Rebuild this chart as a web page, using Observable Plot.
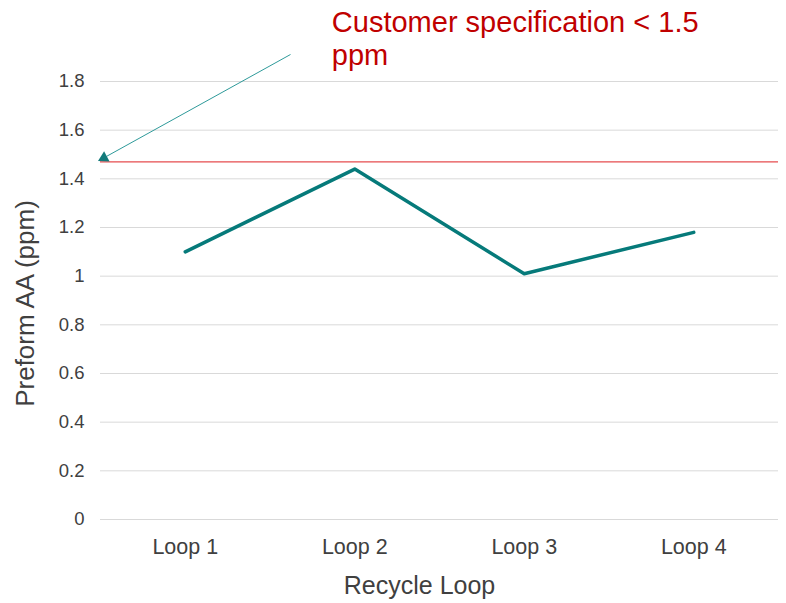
<!DOCTYPE html>
<html><head><meta charset="utf-8">
<script src="https://cdn.jsdelivr.net/npm/d3@7"></script>
<script src="https://cdn.jsdelivr.net/npm/@observablehq/plot@0.6"></script>
<style>body{margin:0;background:#fff;font-family:"Liberation Sans",Arial,sans-serif}</style>
</head><body><div id="chart"></div>
<script>
const loops = ["Loop 1", "Loop 2", "Loop 3", "Loop 4"];
const aaValues = [1.10, 1.44, 1.01, 1.18];
const yTicks = [0, 0.2, 0.4, 0.6, 0.8, 1, 1.2, 1.4, 1.6, 1.8];
const specLimit = 1.47;
const annotationText = "Customer specification < 1.5\nppm";

const data = loops.map((l, i) => ({i, loop: l, v: aaValues[i]}));

const chart = Plot.plot({
  width: 786, height: 603,
  marginLeft: 100, marginRight: 8, marginTop: 81, marginBottom: 84,
  style: {fontFamily: "'Liberation Sans', Arial, sans-serif", background: "#fff"},
  x: {domain: [-0.5, 3.5]},
  y: {domain: [0, 1.8]},
  marks: [
    Plot.ruleY(yTicks, {stroke: "#d9d9d9", strokeWidth: 1}),
    Plot.axisY({ticks: yTicks, tickSize: 0, tickPadding: 16, fontSize: 18.5, color: "#404040", label: null,
      tickFormat: d => String(d)}),
    Plot.axisX({ticks: [0, 1, 2, 3], tickSize: 0, tickPadding: 19, fontSize: 21.5, color: "#404040", label: null,
      tickFormat: d => loops[d]}),
    Plot.text(["Preform AA (ppm)"], {frameAnchor: "left", textAnchor: "middle", dx: -75, dy: 3, rotate: -90, fontSize: 26, fill: "#404040"}),
    Plot.text(["Recycle Loop"], {frameAnchor: "bottom", dy: 74, dx: -20, fontSize: 25, fill: "#404040"}),
    Plot.ruleY([specLimit], {stroke: "#e64c4f", strokeWidth: 1.2}),
    Plot.line(data, {x: "i", y: "v", stroke: "#067a7a", strokeWidth: 3.5}),
    Plot.link([{x1: 0.621, y1: 1.911, x2: -0.465, y2: 1.492}], {x1: "x1", y1: "y1", x2: "x2", y2: "y2",
      stroke: "#2e9a9a", strokeWidth: 1}),
    Plot.dot([{x: -0.48, y: 1.486}], {x: "x", y: "y", symbol: "triangle", r: 4.3, fill: "#127a7a", stroke: null, rotate: -118}),
    Plot.text([annotationText], {x: 0.865, y: 2.1, textAnchor: "start", lineAnchor: "top", fontSize: 29, fill: "#c00000", lineHeight: 1.13})
  ]
});
document.getElementById("chart").appendChild(chart);
</script></body></html>
